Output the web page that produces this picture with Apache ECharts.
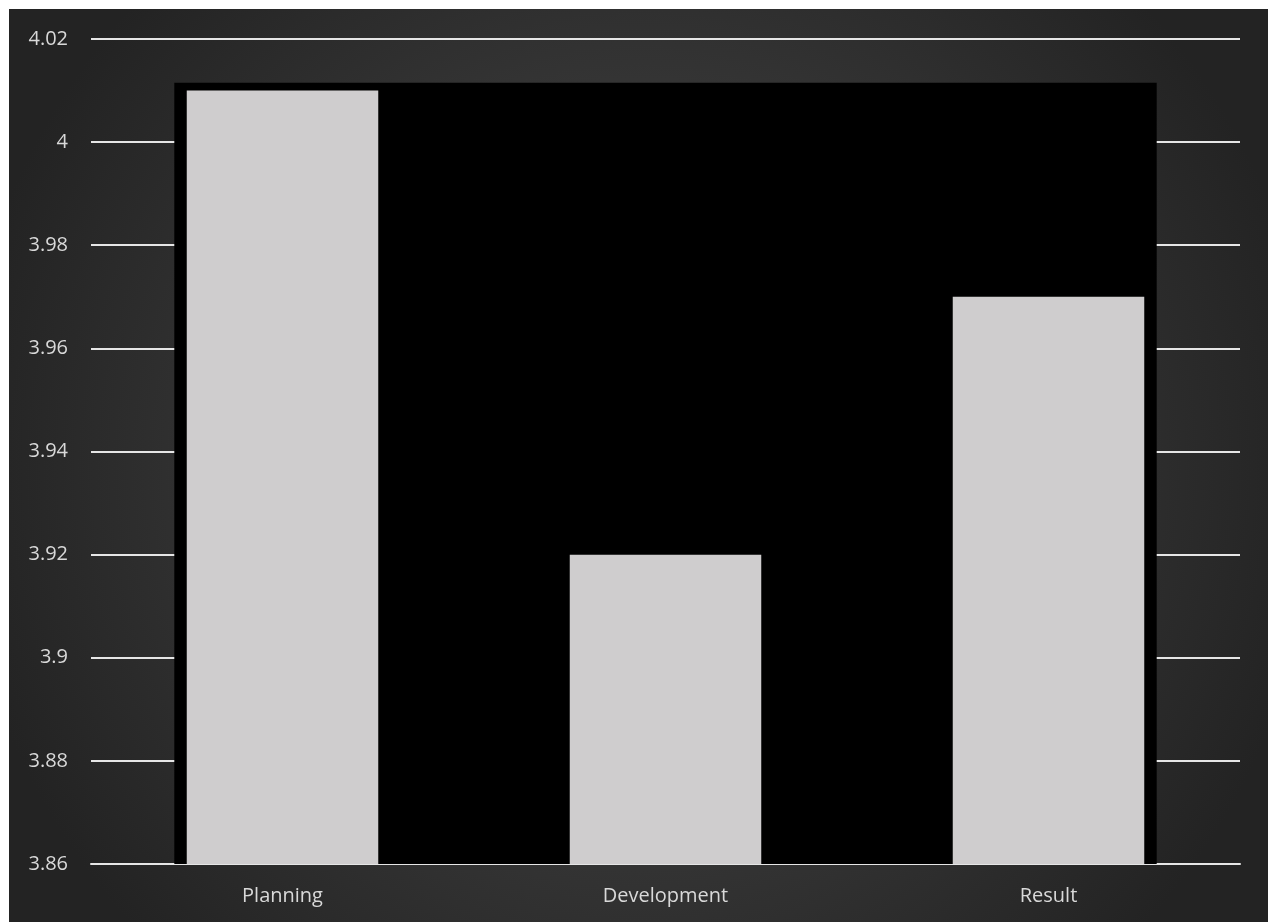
<!DOCTYPE html>
<html><head><meta charset="utf-8">
<script src="https://cdn.jsdelivr.net/npm/echarts@6/dist/echarts.min.js"></script>
<style>html,body{margin:0;padding:0;background:#fff}#c{position:absolute;left:9px;top:9px;width:1259px;height:913px}</style>
</head><body><div id="c"></div>
<script>
const categories = ['Planning', 'Development', 'Result'];
const values = [4.01, 3.92, 3.97];
const backdropValue = [4.0115];
const yMin = 3.86, yMax = 4.02, yStep = 0.02;

const chart = echarts.init(document.getElementById('c'));
chart.setOption({
  backgroundColor: {
    type: 'radial', x: 0.5, y: 0.5, r: 0.75,
    colorStops: [{offset: 0, color: '#4a4a4a'}, {offset: 1, color: '#232323'}]
  },
  animation: false,
  grid: {left: 82, right: 28, top: 30, bottom: 58},
  xAxis: [{
    type: 'category', data: categories,
    axisLine: {show: true, lineStyle: {color: '#e6e6e6', width: 2}},
    axisTick: {show: false},
    axisLabel: {color: '#d9d9d9', fontSize: 20, fontFamily: 'Open Sans', margin: 22}
  }, {
    type: 'category', data: [''], show: false
  }],
  yAxis: {
    type: 'value', min: yMin, max: yMax, interval: yStep,
    axisLine: {show: false}, axisTick: {show: false},
    axisLabel: {color: '#d9d9d9', fontSize: 20, fontFamily: 'Open Sans', margin: 23,
      formatter: v => String(parseFloat(v.toFixed(2)))},
    splitLine: {lineStyle: {color: '#e6e6e6', width: 2}}
  },
  series: [{
    type: 'bar', xAxisIndex: 1, data: backdropValue, barWidth: '85.5%',
    itemStyle: {color: '#000'}, z: 1, silent: true
  }, {
    type: 'bar', xAxisIndex: 0, data: values, barWidth: '50%',
    itemStyle: {color: '#cfcdce'}, z: 3
  }]
});
</script></body></html>
